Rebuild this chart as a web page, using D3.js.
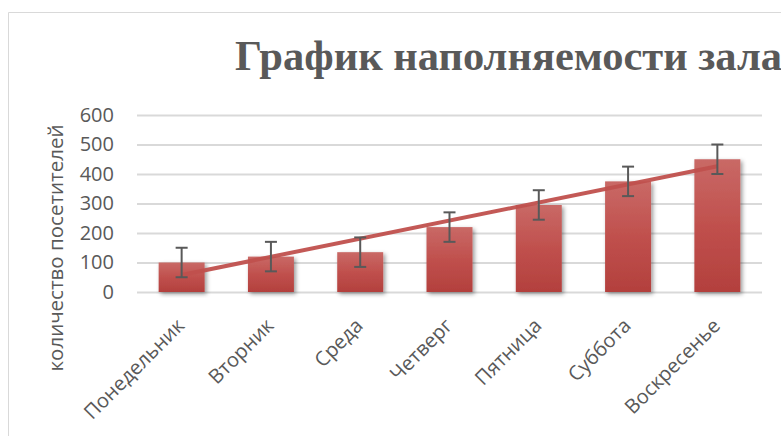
<!DOCTYPE html>
<html>
<head>
<meta charset="utf-8">
<script src="https://cdn.jsdelivr.net/npm/d3@7"></script>
<style>
  body { margin: 0; background: #fff; }
  svg { display: block; }
</style>
</head>
<body>
<div id="container"></div>
<script>
let w = 781;
let h = 436;

// data
const days = ["Понедельник", "Вторник", "Среда", "Четверг", "Пятница", "Суббота", "Воскресенье"];
const visitors = [100, 120, 135, 220, 295, 375, 450];
const errors = [50, 50, 50, 50, 50, 50, 50];
const yTicks = [0, 100, 200, 300, 400, 500, 600];
const title = "График наполняемости зала";
const yTitle = "количество посетителей";

let svg = d3.select("div#container").append("svg")
    .attr("width", w).attr("height", h);

let defs = svg.append("defs");
let grad = defs.append("linearGradient").attr("id", "barGrad")
    .attr("x1", 0).attr("y1", 0).attr("x2", 0).attr("y2", 1);
grad.append("stop").attr("offset", "0%").attr("stop-color", "#c96966");
grad.append("stop").attr("offset", "50%").attr("stop-color", "#c0504d");
grad.append("stop").attr("offset", "100%").attr("stop-color", "#b3403d");

let shadow = defs.append("filter").attr("id", "shadow")
    .attr("x", "-20%").attr("y", "-10%").attr("width", "150%").attr("height", "130%");
shadow.append("feDropShadow").attr("dx", 2).attr("dy", 2).attr("stdDeviation", 2)
    .attr("flood-color", "#000").attr("flood-opacity", 0.4);

// chart frame (runs off the right and bottom edges)
svg.append("path")
    .attr("d", "M8.5," + (h + 2) + "V12.5H" + (w + 2))
    .attr("fill", "none").attr("stroke", "#d9d9d9").attr("stroke-width", 1);

// title
svg.append("text")
    .attr("x", 235).attr("y", 70)
    .attr("font-family", "'Liberation Serif', 'Times New Roman', serif")
    .attr("font-weight", "bold").attr("font-size", 42.5)
    .attr("fill", "#595959")
    .text(title);

let x = d3.scaleBand().domain(days).range([137, 762])
    .paddingInner(0.485).paddingOuter(0.2425);
let y = d3.scaleLinear().domain([0, 600]).range([292, 115]);

// gridlines
svg.append("g")
    .attr("transform", "translate(137,0)")
    .call(d3.axisLeft(y).tickValues(yTicks).tickSize(-625).tickFormat(""))
    .call(g => g.select(".domain").remove())
    .call(g => g.selectAll("line").attr("stroke", "#d9d9d9").attr("stroke-width", 2));

// y tick labels
svg.append("g")
    .attr("transform", "translate(114,0)")
    .call(d3.axisLeft(y).tickValues(yTicks).tickSize(0).tickPadding(0))
    .call(g => g.select(".domain").remove())
    .call(g => g.selectAll("text")
        .attr("font-family", "'Open Sans', sans-serif").attr("font-size", 20)
        .attr("fill", "#595959"));

// y axis title
svg.append("text")
    .attr("transform", "translate(63,248) rotate(-90)")
    .attr("text-anchor", "middle")
    .attr("font-family", "'Open Sans', sans-serif").attr("font-size", 20.5)
    .attr("fill", "#595959")
    .text(yTitle);

// bars
svg.append("g").selectAll("rect")
    .data(visitors)
    .enter().append("rect")
    .attr("x", (d, i) => x(days[i]))
    .attr("y", d => y(d))
    .attr("width", x.bandwidth())
    .attr("height", d => y(0) - y(d))
    .attr("fill", "url(#barGrad)")
    .attr("filter", "url(#shadow)");

// linear trend line (least squares on the bar values)
let idx = visitors.map((d, i) => i + 1);
let mx = d3.mean(idx), my = d3.mean(visitors);
let slope = d3.sum(idx, (k, i) => (k - mx) * (visitors[i] - my)) / d3.sum(idx, k => (k - mx) * (k - mx));
let icpt = my - slope * mx;
let trend = days.map((d, i) => [x(d) + x.bandwidth() / 2, y(icpt + slope * (i + 1))]);
svg.append("path")
    .datum([trend[0], trend[trend.length - 1]])
    .attr("d", d3.line())
    .attr("fill", "none").attr("stroke", "#c0504d").attr("stroke-width", 4)
    .attr("stroke-opacity", 0.95);

// error bars
let eb = svg.append("g").attr("stroke", "#595959").attr("stroke-width", 2);
visitors.forEach((v, i) => {
    let cx = x(days[i]) + x.bandwidth() / 2;
    let top = y(v + errors[i]), bot = y(v - errors[i]);
    eb.append("line").attr("x1", cx).attr("x2", cx).attr("y1", top).attr("y2", bot);
    eb.append("line").attr("x1", cx - 6).attr("x2", cx + 6).attr("y1", top).attr("y2", top);
    eb.append("line").attr("x1", cx - 6).attr("x2", cx + 6).attr("y1", bot).attr("y2", bot);
});

// x labels
svg.append("g")
    .selectAll("text")
    .data(days)
    .enter().append("text")
    .attr("transform", d => "translate(" + (x(d) + x.bandwidth() / 2 + 4) + ",327) rotate(-45)")
    .attr("text-anchor", "end")
    .attr("font-family", "'Open Sans', sans-serif").attr("font-size", 20)
    .attr("fill", "#595959")
    .text(d => d);
</script>
</body>
</html>
